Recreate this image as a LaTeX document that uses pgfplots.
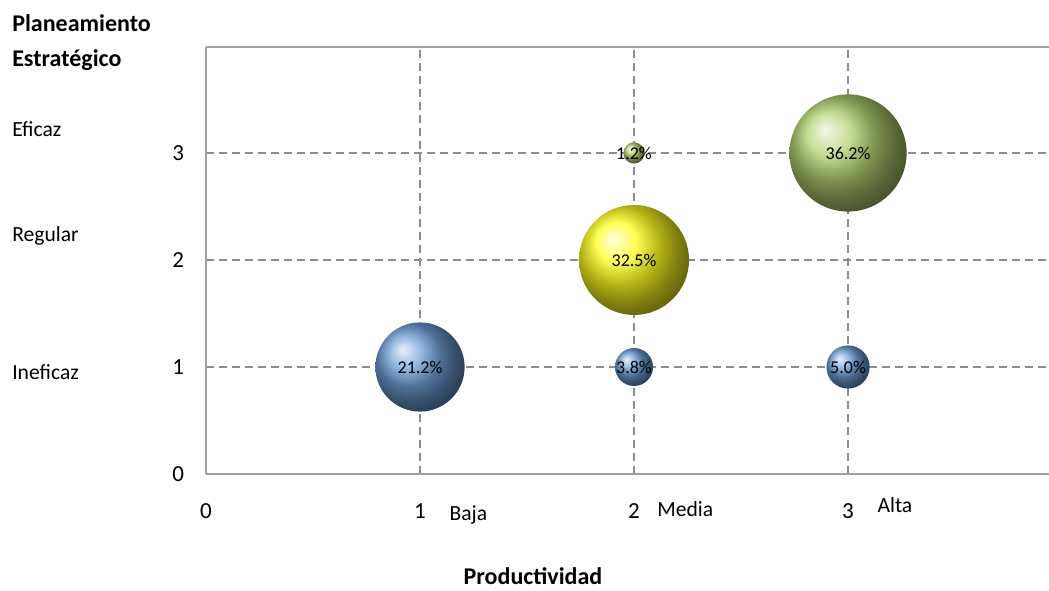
\documentclass[border=0pt]{standalone}
\usepackage{pgfplots}
\pgfplotsset{compat=1.18}
\usepackage{fontspec}
\setmainfont{Carlito}
\definecolor{bblue}{RGB}{108,158,214}
\definecolor{bgreen}{RGB}{178,210,112}
\definecolor{byellow}{RGB}{255,255,30}
\definecolor{gridgray}{RGB}{140,140,140}
\definecolor{axgray}{RGB}{160,160,160}

\pgfplotsset{
  bubble/.style 2 args={
    only marks, mark=ball, mark size=#2,
    mark options={ball color=#1, draw opacity=0, line width=0pt},
    point meta=explicit symbolic,
    nodes near coords,
    every node near coord/.append style={anchor=center, inner sep=0pt, font=\fontsize{9}{10}\selectfont, text=black},
  }
}

\begin{document}
\begin{tikzpicture}
\useasboundingbox (0,0) rectangle (524.5pt,295pt);
\begin{axis}[
  at={(103pt,58pt)}, anchor=south west,
  scale only axis, width=421.5pt, height=213.5pt,
  xmin=0, xmax=3.939, ymin=0, ymax=3.99,
  axis x line=box, axis y line=left,
  axis line style={-, draw=axgray, line width=1pt},
  xtick={1,2,3}, ytick={1,2,3},
  extra x ticks={0}, extra y ticks={0},
  extra tick style={grid=none},
  major tick length=0pt,
  grid=major,
  major grid style={draw=gridgray, line width=0.7pt, dash pattern=on 4pt off 2.5pt},
  /pgf/number format/assume math mode=true,
  ticklabel style={font=\fontsize{11.5}{13}\selectfont, text=black},
  xticklabel style={yshift=-11.5pt},
  yticklabel style={xshift=-7.5pt},
  clip=false,
]
% Ineficaz (blue)
\addplot[bubble={bblue}{22.3pt}] coordinates {(1,1) [21.2\%]};
\addplot[bubble={bblue}{9.5pt}]  coordinates {(2,1) [3.8\%]};
\addplot[bubble={bblue}{10.8pt}] coordinates {(3,1) [5.0\%]};
% Regular (yellow)
\addplot[bubble={byellow}{27.5pt}] coordinates {(2,2) [32.5\%]};
% Eficaz (green)
\addplot[bubble={bgreen}{5.3pt}]  coordinates {(2,3) [1.2\%]};
\addplot[bubble={bgreen}{29.3pt}] coordinates {(3,3) [36.2\%]};

\begin{scope}[every node/.style={inner sep=0pt}]
\node[anchor=base west, font=\bfseries\fontsize{12}{14}\selectfont] at (axis cs:-0.907,4.131) {Planeamiento};
\node[anchor=base west, font=\bfseries\fontsize{12}{14}\selectfont] at (axis cs:-0.907,3.804) {Estratégico};
\node[anchor=base west, font=\fontsize{10.8}{12}\selectfont] at (axis cs:-0.907,3.150) {Eficaz};
\node[anchor=base west, font=\fontsize{10.8}{12}\selectfont] at (axis cs:-0.907,2.168) {Regular};
\node[anchor=base west, font=\fontsize{10.8}{12}\selectfont] at (axis cs:-0.907,0.879) {Ineficaz};
\node[anchor=base west, font=\fontsize{10.8}{12}\selectfont] at (axis cs:1.136,-0.439) {Baja};
\node[anchor=base west, font=\fontsize{10.8}{12}\selectfont] at (axis cs:2.107,-0.393) {Media};
\node[anchor=base west, font=\fontsize{10.8}{12}\selectfont] at (axis cs:3.136,-0.364) {Alta};
\node[anchor=base, font=\bfseries\fontsize{12}{14}\selectfont] at (axis cs:1.528,-1.037) {Productividad};
\end{scope}
\end{axis}
\end{tikzpicture}
\end{document}
